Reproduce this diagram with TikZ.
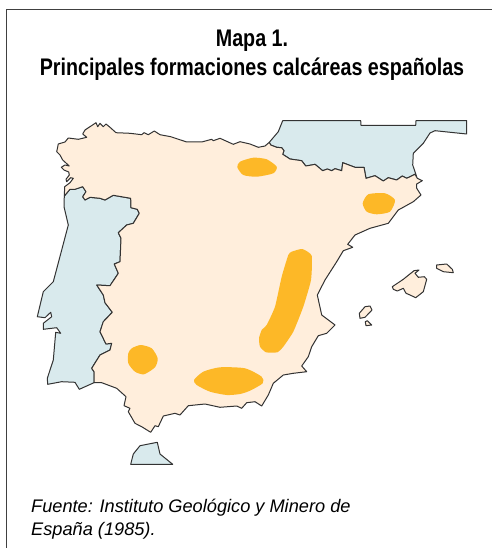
\documentclass[tikz,border=0pt]{standalone}
\usepackage{fontspec}
\setmainfont{Liberation Sans}
\newfontfamily\titlefont[FakeStretch=0.82]{Liberation Sans}
\tikzset{
 coast/.style={draw=black!80,line width=1pt,line join=round},
 land/.style={coast,fill=landcol},
 foreign/.style={coast,fill=seacol},
 calc/.style={fill=calccol,draw=none},
 titletext/.style={font=\titlefont\bfseries\fontsize{24}{29}\selectfont,align=center,inner sep=0pt},
 sourcetext/.style={font=\itshape\fontsize{18.2}{23.5}\selectfont,align=left,anchor=north west,inner sep=0pt}
}
\definecolor{landcol}{HTML}{FFEEDC}
\definecolor{seacol}{HTML}{D9EAED}
\definecolor{calccol}{HTML}{FDB827}
\begin{document}
\begin{tikzpicture}[x=1pt,y=-1pt]
\useasboundingbox (0,0) rectangle (492,548);
\fill[white] (0,0) rectangle (492,548);
\draw[black!75,line width=1.1pt] (6.5,548) -- (6.5,9.5) -- (492,9.5);
% France
\path[foreign] (269.3,142.3) -- (278.3,131.7) -- (282.7,120.7) -- (360.7,120.7) -- (361,125.3) -- (415.7,125.3) -- (416,120.7) -- (466.7,120.7) -- (466.7,134) -- (435,130.7) -- (430,133) -- (423.3,143.3) -- (413.3,153.3) -- (412.7,165) -- (416.7,176.7) -- (415,174.3) -- (406.7,178.3) -- (402.3,176) -- (396.7,180) -- (388.3,177.7) -- (383.3,181) -- (375,175.7) -- (366,178.3) -- (364,167.3) -- (355,167.3) -- (342.7,162.7) -- (341.7,170.7) -- (335,168.7) -- (331.7,170.7) -- (327.3,169) -- (322.7,170.7) -- (315,164.3) -- (311.7,165) -- (305.7,166) -- (301.7,160.7) -- (290,159) -- (282.7,154.3) -- (284,150.7) -- (281.7,147.7) -- (276.7,147.3) -- (270.7,145) -- cycle;
% Portugal
\path[foreign] (64.3,196) -- (64,206.7) -- (68.3,225) -- (61.7,250) -- (53.3,281.7) -- (43.3,291.7) -- (37.3,316.7) -- (45,317.7) -- (50.7,312.3) -- (51.7,316.7) -- (43.3,323.3) -- (43.3,329.3) -- (56.7,327.7) -- (60.7,333.3) -- (55.7,332.3) -- (53.3,360) -- (47.3,378.3) -- (47.7,384.3) -- (61.7,381.7) -- (75,382.3) -- (79.3,389.3) -- (94,382.7) -- (94,371.7) -- (91.7,368.3) -- (100,355) -- (110,350) -- (111.7,343.3) -- (106,344) -- (100,331.7) -- (103.3,321.7) -- (112.3,312.3) -- (105,302.7) -- (103.3,295) -- (96.7,285) -- (110,285.7) -- (118.3,273.3) -- (114.3,264) -- (120,261.7) -- (121,238.3) -- (118.3,232.7) -- (126.7,225) -- (133.3,223.3) -- (139.3,213.3) -- (137.3,209.3) -- (131,207.7) -- (130.7,198.3) -- (113.3,195.3) -- (105,200) -- (100,198.3) -- (90,197.3) -- (85,200) -- (82.7,196.7) -- (86,191.7) -- (82.7,186.7) -- (75,189.3) -- (70,189.3) -- cycle;
% Spain
\path[land] (64.3,196) -- (64.7,186.7) -- (70,182.7) -- (73.3,178.3) -- (70.7,177.7) -- (66.7,181.7) -- (66,179.3) -- (69.3,175) -- (68.7,172) -- (64,170) -- (61.3,167.3) -- (65,165) -- (69.3,166) -- (62.7,160) -- (60,155) -- (56.7,151.7) -- (58.3,144) -- (65,142) -- (68.3,138) -- (78.3,139.3) -- (86.7,137.3) -- (82.7,134) -- (85,130) -- (96,122.7) -- (97.7,126.7) -- (100,123.3) -- (103.3,126.7) -- (106,124) -- (110,127.3) -- (116,132.7) -- (130,133.3) -- (141.7,134.7) -- (144,132.7) -- (148.3,134.7) -- (154.3,131) -- (160,134.7) -- (170.7,136.7) -- (186.7,142) -- (201.7,142) -- (211.7,139.3) -- (213.3,140.7) -- (220,138.3) -- (233.3,144.3) -- (240,141.7) -- (250,144) -- (258.3,147.3) -- (265,146) -- (269.3,142.3) -- (270.7,145) -- (276.7,147.3) -- (281.7,147.7) -- (284,150.7) -- (282.7,154.3) -- (290,159) -- (301.7,160.7) -- (305.7,166) -- (311.7,165) -- (315,164.3) -- (322.7,170.7) -- (327.3,169) -- (331.7,170.7) -- (335,168.7) -- (341.7,170.7) -- (342.7,162.7) -- (355,167.3) -- (364,167.3) -- (366,178.3) -- (375,175.7) -- (383.3,181) -- (388.3,177.7) -- (396.7,180) -- (402.3,176) -- (406.7,178.3) -- (415,174.3) -- (417.3,178.3) -- (422.3,180.7) -- (416.7,184) -- (416.7,188.3) -- (421,195) -- (413.3,201.7) -- (398.3,210) -- (388.3,223.3) -- (370,228.3) -- (355,235) -- (347.7,244.3) -- (352.7,247.3) -- (343.3,250.7) -- (336.7,261.7) -- (325,280) -- (317.3,295) -- (321.7,315) -- (335,325) -- (326.7,333.3) -- (318.3,335.7) -- (311.7,346.7) -- (308.3,356.7) -- (301.7,366) -- (306.7,371.7) -- (293.3,373.3) -- (283.3,375) -- (273.3,383.3) -- (268.3,395) -- (261.7,406) -- (255,401.7) -- (246.7,402.7) -- (241.7,408.3) -- (236.7,406) -- (220,407.3) -- (205,404) -- (188.3,405.7) -- (180,415) -- (175,413.3) -- (163.3,416) -- (158.3,426.7) -- (155,425.7) -- (150.7,432.3) -- (141.7,426.7) -- (135,423.3) -- (128.3,411.7) -- (130,408.3) -- (124,405.7) -- (126,396.7) -- (116.7,388.3) -- (101.7,382.7) -- (94,382.7) -- (94,371.7) -- (91.7,368.3) -- (100,355) -- (110,350) -- (111.7,343.3) -- (106,344) -- (100,331.7) -- (103.3,321.7) -- (112.3,312.3) -- (105,302.7) -- (103.3,295) -- (96.7,285) -- (110,285.7) -- (118.3,273.3) -- (114.3,264) -- (120,261.7) -- (121,238.3) -- (118.3,232.7) -- (126.7,225) -- (133.3,223.3) -- (139.3,213.3) -- (137.3,209.3) -- (131,207.7) -- (130.7,198.3) -- (113.3,195.3) -- (105,200) -- (100,198.3) -- (90,197.3) -- (85,200) -- (82.7,196.7) -- (86,191.7) -- (82.7,186.7) -- (75,189.3) -- (70,189.3) -- cycle;
% Ceuta
\path[foreign] (130.7,464.3) -- (133.3,454) -- (140,445.7) -- (157.3,442.3) -- (160,454) -- (172.7,464.3) -- cycle;
% Balearic islands
\path[land] (392.3,286.7) -- (403.3,279.3) -- (414,270.7) -- (419,270) -- (415,273.3) -- (418.3,277.3) -- (424.3,276.7) -- (426.7,279.3) -- (423.3,291.7) -- (415.7,297.7) -- (410,295) -- (406,293.3) -- (403.3,288.3) -- (397.3,291) -- (393.3,289.3) -- cycle;
\path[land] (436.7,265) -- (446.7,264) -- (452.3,269.3) -- (453.3,272.7) -- (443.3,271.7) -- (436.7,268.3) -- cycle;
\path[land] (359.3,313.3) -- (365,306.7) -- (370,306) -- (372,310) -- (365,317.3) -- (360,318.3) -- cycle;
\path[land] (365.3,321.7) -- (367.3,320.7) -- (371.7,325) -- (366,325.7) -- cycle;
% Calcareous formations
\fill[calc] plot[smooth cycle,tension=0.4] coordinates {(237.3,167.3) (240,161.7) (253.3,157.7) (266.7,159.3) (276.7,166.7) (273.3,173.3) (256.7,176.7) (243.3,175)};
\fill[calc] plot[smooth cycle,tension=0.4] coordinates {(362.7,203.3) (368.3,194.3) (385,193.3) (395,200) (390,211.7) (376.7,214.3) (366.7,211.7)};
\fill[calc] plot[smooth cycle,tension=0.3] coordinates {(288.3,255) (291.7,251.7) (302.3,249) (311.7,255.7) (311,280) (303.3,306.7) (293.3,331.7) (283.3,346.7) (277.3,352.3) (266,352.3) (260,346.7) (259,338.3) (261.7,330) (266.7,325) (275,306.7) (281.7,276.7)};
\fill[calc] plot[smooth cycle,tension=0.4] coordinates {(128.3,353.3) (131.7,348.3) (140.7,345) (151.7,348.3) (157.7,358.3) (155,367.3) (144,374.3) (135,371.7) (128.3,363.3)};
\fill[calc] plot[smooth cycle,tension=0.4] coordinates {(194,380) (203.3,371.7) (220,367.3) (245,368.3) (261.7,376.7) (262.7,383.3) (250,390.7) (240,394) (226.7,395) (210,391.7) (196.7,385)};
% Texts
\node[titletext] (title) at (252,55) {Mapa 1.\\Principales formaciones calcáreas españolas};
\node[sourcetext] (source) at (31,498.5) {Fuente: Instituto Geológico y Minero de\\España (1985).};
\end{tikzpicture}
\end{document}
